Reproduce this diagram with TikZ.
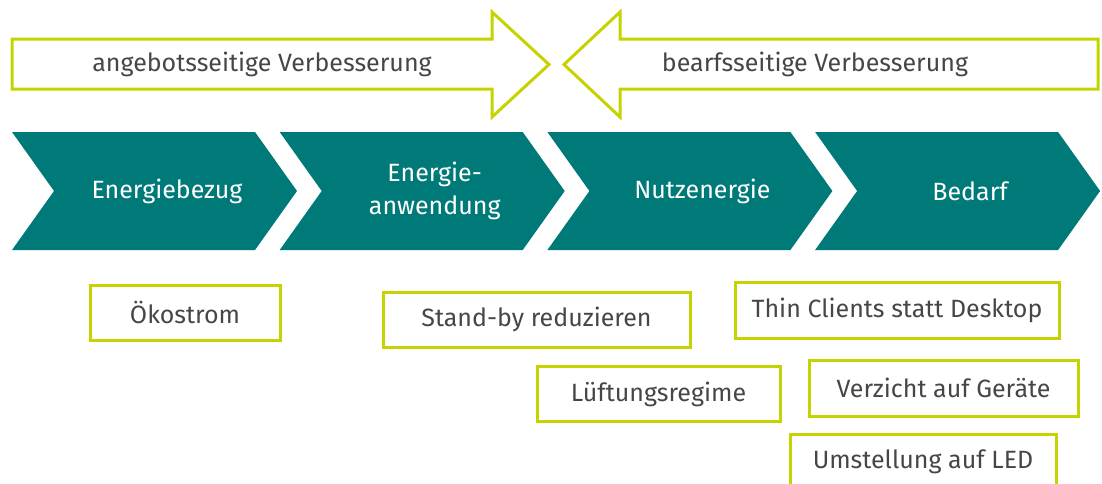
\documentclass[tikz,border=0pt]{standalone}
\usepackage{fontspec}
\setmainfont{Fira Sans}
\definecolor{tealdark}{RGB}{0,122,120}
\definecolor{limeline}{RGB}{197,212,0}
\definecolor{textgray}{RGB}{70,70,70}

\begin{document}
\begin{tikzpicture}[x=1pt,y=-1pt,
    chev/.style={fill=tealdark},
    chevtext/.style={text=white,align=center,font=\fontsize{25}{33}\selectfont},
    bigarrow/.style={draw=limeline,line width=3pt,line join=miter},
    arrowtext/.style={text=textgray,font=\fontsize{25}{30}\selectfont},
    measure/.style={draw=limeline,line width=3pt,text=textgray,inner sep=0pt,
        minimum height=55pt,font=\fontsize{25}{30}\selectfont}]
    \useasboundingbox (0,0) rectangle (1102,483);

    % direction arrows
    \draw[bigarrow] (12,39) -- (492,39) -- (492,12) -- (549,64.5) -- (492,117) -- (492,89) -- (12,89) -- cycle;
    \draw[bigarrow] (1098,39) -- (620,39) -- (620,12) -- (564,64.5) -- (620,117) -- (620,89) -- (1098,89) -- cycle;
    \node[arrowtext] (supply) at (262,64.5) {angebotsseitige Verbesserung};
    \node[arrowtext] (demand) at (815,64.5) {bearfsseitige Verbesserung};

    % process chain
    \foreach \i/\name/\lbl in {0/bezug/Energiebezug, 1/anwendung/{Energie-\\anwendung},
                               2/nutzen/Nutzenergie, 3/bedarf/Bedarf}{
        \pgfmathsetmacro{\x}{12+267.7*\i}
        \fill[chev] (\x,132) -- (\x+243,132) -- (\x+285,191) -- (\x+243,250) -- (\x,250) -- (\x+42,191) -- cycle;
        \node[chevtext] (\name) at (\x+155,191) {\lbl};
    }

    % measures
    \node[measure, minimum width=190pt] (oeko) at (185,312.5) {Ökostrom};
    \node[measure, minimum width=307pt] (standby) at (536.5,319.5) {Stand-by reduzieren};
    \node[measure, minimum width=243pt] (lueftung) at (658.5,394) {Lüftungsregime};
    \node[measure, minimum width=324pt, minimum height=56pt] (thin) at (897,310) {Thin Clients statt Desktop};
    \node[measure, minimum width=269pt, minimum height=56pt] (verzicht) at (943.5,388) {Verzicht auf Geräte};
    \node[measure, minimum width=266pt, minimum height=56pt] (led) at (923,462) {Umstellung auf LED};
\end{tikzpicture}
\end{document}
